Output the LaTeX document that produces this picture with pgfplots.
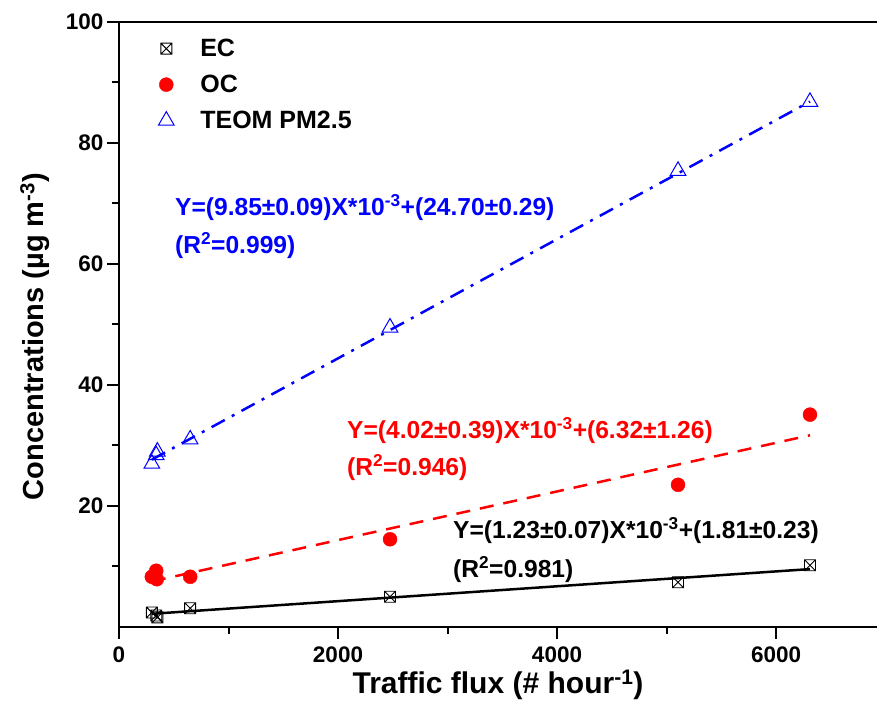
\documentclass[border=0pt]{standalone}
\usepackage{fontspec}
\setmainfont{Liberation Sans}
\usepackage{pgfplots}
\pgfplotsset{compat=1.18}
\pgfdeclareplotmark{boxx}{%
  \pgfpathrectangle{\pgfpoint{-\pgfplotmarksize}{-\pgfplotmarksize}}{\pgfpoint{2\pgfplotmarksize}{2\pgfplotmarksize}}%
  \pgfpathmoveto{\pgfpoint{-\pgfplotmarksize}{-\pgfplotmarksize}}%
  \pgfpathlineto{\pgfpoint{\pgfplotmarksize}{\pgfplotmarksize}}%
  \pgfpathmoveto{\pgfpoint{-\pgfplotmarksize}{\pgfplotmarksize}}%
  \pgfpathlineto{\pgfpoint{\pgfplotmarksize}{-\pgfplotmarksize}}%
  \pgfusepathqstroke}
\newcommand{\fs}[1]{\fontsize{#1}{#1}\selectfont\bfseries}
\begin{document}
\begin{tikzpicture}
\begin{axis}[
  scale only axis, width=758pt, height=605pt,
  xmin=0, xmax=6922, ymin=0, ymax=100,
  axis x line=box, axis y line=left,
  axis line style={-, line width=2.2pt},
  xtick={0,2000,4000,6000}, minor xtick={1000,3000,5000},
  ytick={20,40,60,80,100}, minor ytick={10,30,50,70,90},
  xtick pos=left, ytick pos=left,
  tick align=outside,
  major tick length=12pt, minor tick length=7pt,
  every tick/.style={line width=2pt, black},
  scaled ticks=false,
  /pgf/number format/1000 sep={},
  /pgf/number format/assume math mode=true,
  ticklabel style={font=\fs{22.5}},
  xticklabel style={yshift=-4pt},
  xlabel={Traffic flux (\# hour\textsuperscript{-1})},
  ylabel={Concentrations (µg m\textsuperscript{-3})},
  xlabel style={font=\fs{30}, at={(axis description cs:0.5,-0.096)}, anchor=center},
  ylabel style={font=\fs{29}, at={(axis description cs:-0.111,0.48)}, anchor=center},
  legend style={at={(0.045,0.9785)}, anchor=north west, draw=none, fill=none, font=\fs{25}, row sep=13pt},
  legend cell align=left,
  legend image code/.code={\path[draw=none,fill=none] (0pt,-1pt) rectangle (42pt,1pt); \draw[#1] plot coordinates {(10pt,0pt)};},
]
\addplot[only marks, mark=boxx, mark size=5.5pt, black, line width=0.9pt] coordinates {
  (300,2.4) (340,1.9) (350,1.6) (650,3.1) (2475,5.0) (5105,7.4) (6310,10.2)};
\addlegendentry{EC}
\addplot[only marks, mark=*, mark size=7pt, red, draw=red, fill=red] coordinates {
  (300,8.3) (340,9.3) (345,7.9) (650,8.3) (2475,14.5) (5105,23.5) (6310,35.1)};
\addlegendentry{OC}
\addplot[only marks, mark=triangle, mark size=9pt, blue, line width=1pt] coordinates {
  (300,27.0) (340,28.4) (350,29.0) (650,31.0) (2475,49.5) (5105,75.4) (6310,86.8)};
\addlegendentry{TEOM PM2.5}
\addplot[forget plot, black, line width=2.5pt] coordinates {(300,2.18) (6310,9.57)};
\addplot[forget plot, red, line width=2.5pt, dash pattern=on 14pt off 10pt] coordinates {(300,7.53) (6310,31.69)};
\addplot[forget plot, blue, line width=2.5pt, dash pattern=on 15pt off 8pt on 3pt off 8pt] coordinates {(300,27.66) (6310,86.85)};
\node[anchor=west, blue, font=\fs{24.6}, inner sep=0pt] at (axis cs:511,69.3) {Y=(9.85±0.09)X*10\textsuperscript{-3}+(24.70±0.29)};
\node[anchor=west, blue, font=\fs{24.6}, inner sep=0pt] at (axis cs:511,63.1) {(R\textsuperscript{2}=0.999)};
\node[anchor=west, red, font=\fs{24.6}, inner sep=0pt] at (axis cs:2082,32.5) {Y=(4.02±0.39)X*10\textsuperscript{-3}+(6.32±1.26)};
\node[anchor=west, red, font=\fs{24.6}, inner sep=0pt] at (axis cs:2082,26.3) {(R\textsuperscript{2}=0.946)};
\node[anchor=west, black, font=\fs{24.6}, inner sep=0pt] at (axis cs:3050,16.0) {Y=(1.23±0.07)X*10\textsuperscript{-3}+(1.81±0.23)};
\node[anchor=west, black, font=\fs{24.6}, inner sep=0pt] at (axis cs:3050,9.5) {(R\textsuperscript{2}=0.981)};
\coordinate (bl) at (rel axis cs:0,0);
\coordinate (tr) at (rel axis cs:1,1);
\end{axis}
\pgfresetboundingbox
\path[use as bounding box] ([xshift=-119pt,yshift=-92pt]bl) rectangle ([yshift=22pt]tr);
\end{tikzpicture}
\end{document}
